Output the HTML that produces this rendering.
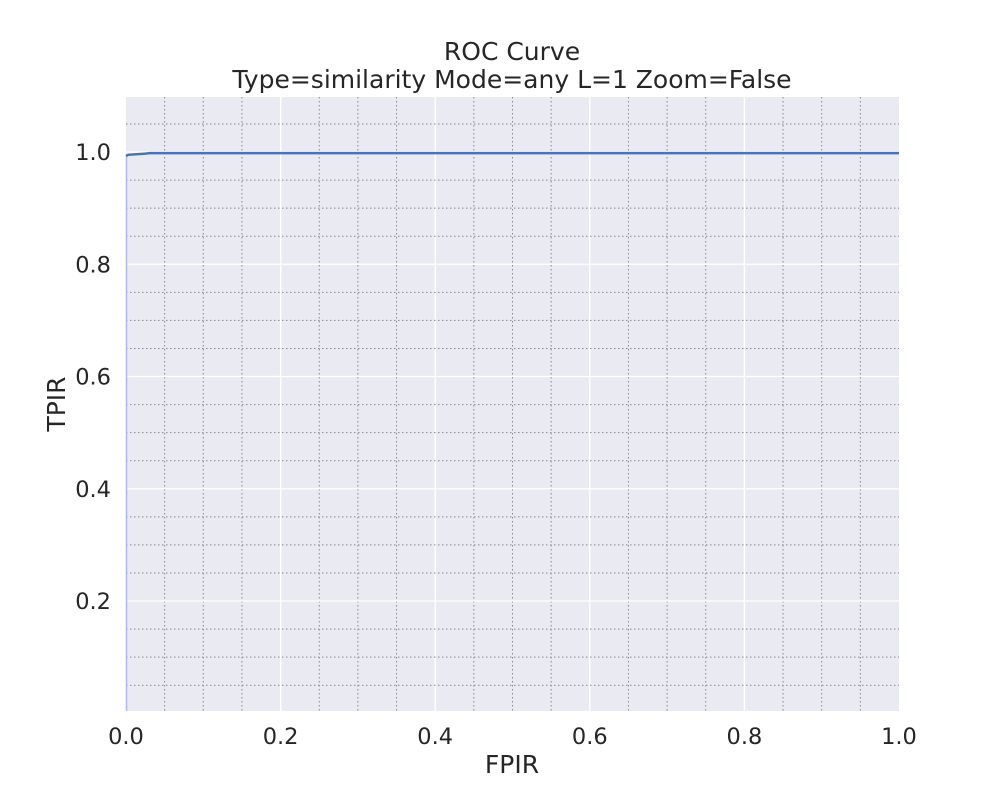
<!DOCTYPE html>
<html><head><meta charset="utf-8"><style>
body{margin:0;background:#fff;font-family:"DejaVu Sans","Liberation Sans",sans-serif}
svg text{font-family:"DejaVu Sans","Liberation Sans",sans-serif;fill:#262626}
</style></head><body>
<svg id="c" width="1000" height="800" xmlns="http://www.w3.org/2000/svg">
<rect x="126" y="97" width="773" height="614" fill="#eaeaf2"/>
<g id="grid"></g>
<g id="marks"></g>
<g id="ticks"></g>
<text x="512" y="60" font-size="25" text-anchor="middle">ROC Curve</text>
<text x="512" y="88" font-size="25" text-anchor="middle">Type=similarity Mode=any L=1 Zoom=False</text>
<text x="512" y="773" font-size="25" text-anchor="middle">FPIR</text>
<text x="0" y="0" font-size="25" text-anchor="middle" transform="translate(65,404) rotate(-90)">TPIR</text>
</svg>
<script>
const fpr=[0,0.003,0.025,0.03,1];
const tpr=[0.993,0.995,0.997,0.998,0.998];
const xTicks=[0,0.2,0.4,0.6,0.8,1.0];
const yTicks=[0.2,0.4,0.6,0.8,1.0];
const xLabels=["0.0","0.2","0.4","0.6","0.8","1.0"];
const yLabels=["0.2","0.4","0.6","0.8","1.0"];
const NS="http://www.w3.org/2000/svg";
const X=v=>126+773*v;
const Y=v=>713.25-561.25*v;
function mk(t,a,p){const e=document.createElementNS(NS,t);for(const k in a)e.setAttribute(k,a[k]);p.appendChild(e);return e;}
const g=document.getElementById('grid'),m=document.getElementById('marks'),tk=document.getElementById('ticks');
for(let i=1;i<20;i++){const v=i*0.05;
 const major=i%4===0;
 const l=mk('line',{x1:X(v),x2:X(v),y1:97,y2:711,stroke:major?'#fff':'#888','stroke-width':major?1.3:1,'stroke-dasharray':major?'':'1.5,2.5'},g);
 
 }
for(let i=1;i<=22;i++){const v=i*0.05;const y=Y(v);if(y<97||y>711)continue;
 const major=i%4===0;
 const l=mk('line',{x1:126,x2:899,y1:y,y2:y,stroke:major?'#fff':'#888','stroke-width':major?1.3:1,'stroke-dasharray':major?'':'1.5,2.5'},g);
 
 }
const vl=mk('line',{x1:X(0)+0.5,x2:X(0)+0.5,y1:Y(tpr[0]),y2:711,stroke:'#a8bde6','stroke-width':1.5},m);


const pl=mk('polyline',{points:fpr.map((f,i)=>X(f)+','+Y(tpr[i])).join(' '),fill:'none',stroke:'#4c72b0','stroke-width':2.5},m);


xTicks.forEach((v,i)=>{const t=mk('text',{x:X(v),y:744,'font-size':22.5,'text-anchor':'middle'},tk);t.textContent=xLabels[i];
 
 });
yTicks.forEach((v,i)=>{const t=mk('text',{x:111,y:Y(v)+8,'font-size':22.5,'text-anchor':'end'},tk);t.textContent=yLabels[i];
 
 });
</script>
</body></html>
